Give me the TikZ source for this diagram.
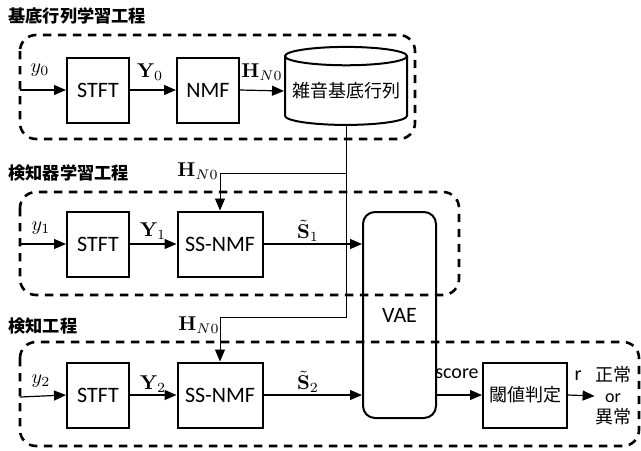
\documentclass[tikz,border=0pt]{standalone}
\usepackage{amsmath,amssymb}
\usepackage[no-math]{fontspec}
\usepackage{tikz}
\usetikzlibrary{shapes.geometric,arrows.meta,positioning}
\setmainfont{Carlito}
\newfontfamily\jp{Noto Sans CJK JP}

\begin{document}
\begin{tikzpicture}[
  x=0.5pt,y=-0.5pt,
  font=\fontsize{11}{13}\selectfont,
  blk/.style={draw,line width=1pt,minimum width=31pt,minimum height=32.5pt,inner sep=0pt,align=center},
  wblk/.style={blk,minimum width=42.5pt},
  dbase/.style={draw,line width=1pt,shape=cylinder,shape border rotate=90,aspect=0.17,minimum width=61pt,minimum height=39pt,inner sep=0pt},
  grp/.style={draw,line width=1.3pt,dash pattern=on 4.2pt off 3.3pt,rounded corners=8pt},
  ttl/.style={anchor=west,inner sep=0pt,font=\jp\bfseries\fontsize{8.6}{10}\selectfont},
  arr/.style={-{Triangle[length=6pt,width=5pt]},line width=0.6pt},
  harr/.style={-{Triangle[length=6pt,width=5pt]},line width=0.45pt},
  lbl/.style={inner sep=0pt,font=\fontsize{10}{12}\selectfont},
  ja/.style={font=\jp\fontsize{9}{10.5}\selectfont},
]
\useasboundingbox (0,0) rectangle (641,450);

% 基底行列学習
\node[ttl] (t0) at (8,16) {基底行列学習工程};
\draw[grp] (20,35) rectangle (415,139);
\coordinate (in0) at (20,90);
\node[blk] (stft0) at (98,90) {STFT};
\node[blk] (nmf0) at (208,90) {NMF};
\node[dbase,ja] (db) at (346,91) {雑音基底行列};
\draw[arr] (in0) -- (stft0.west);
\draw[arr] (stft0.east) -- (nmf0.west);
\draw[arr] (nmf0.east) -- (db.west);
\node[lbl] (ly0) at (40,70) {$y_0$};
\node[lbl] (lY0) at (150,72) {$\mathbf{Y}_0$};
\node[lbl] (lH0) at (262,72) {$\mathbf{H}_{N0}$};

% 検知器学習
\node[ttl] (t1) at (8,173) {検知器学習工程};
\draw[grp] (20,192) rectangle (459,295);
\coordinate (in1) at (20,244);
\node[blk] (stft1) at (98,244) {STFT};
\node[wblk] (ssnmf1) at (220,244) {SS-NMF};
\draw[arr] (in1) -- (stft1.west);
\draw[arr] (stft1.east) -- (ssnmf1.west);
\node[lbl] (ly1) at (41,228) {$y_1$};
\node[lbl] (lY1) at (153,231) {$\mathbf{Y}_1$};

% 検知
\node[ttl] (t2) at (8,326) {検知工程};
\draw[grp] (20,342) rectangle (639,446);
\coordinate (in2) at (20,397);
\node[blk] (stft2) at (98,395) {STFT};
\node[wblk] (ssnmf2) at (220,395) {SS-NMF};
\node[blk,minimum width=42pt,ja] (thr) at (525,395) {閾値判定};
\node[ja,inner sep=0pt,align=center] (res) at (613,396) {正常\\{\normalfont or}\\異常};
\draw[arr] (in2) -- (stft2.west);
\draw[arr] (stft2.east) -- (ssnmf2.west);
\node[lbl] (ly2) at (41,381) {$y_2$};
\node[lbl] (lY2) at (153,384) {$\mathbf{Y}_2$};

% VAE
\node[blk,rounded corners=6pt,minimum width=36.5pt,minimum height=103pt] (vae) at (399.5,315) {VAE};
\draw[arr] (ssnmf1.east) -- (ssnmf1.east -| vae.west);
\draw[arr] (ssnmf2.east) -- (ssnmf2.east -| vae.west);
\node[lbl] (lS1) at (308,231) {$\tilde{\mathbf{S}}_1$};
\node[lbl] (lS2) at (308,382) {$\tilde{\mathbf{S}}_2$};
\draw[arr] (thr.west -| vae.east) -- (thr.west);
\draw[arr] (thr.east) -- (res.west);
\node[lbl] (lsc) at (457,374) {score};
\node[lbl] (lr) at (578,376) {r};

% 基底の受け渡し
\coordinate (j1) at (346,173);
\coordinate (j2) at (346,317);
\draw[harr] (db.south) -- (j2) -| (ssnmf2.north);
\draw[harr] (j1) -| (ssnmf1.north);
\node[lbl] (lH1) at (198,171) {$\mathbf{H}_{N0}$};
\node[lbl] (lH2) at (199,325) {$\mathbf{H}_{N0}$};
\end{tikzpicture}
\end{document}
